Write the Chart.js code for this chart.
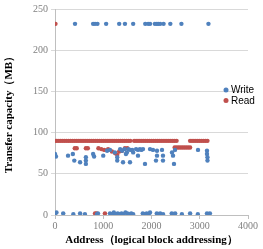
<!DOCTYPE html>
<html>
<head>
<meta charset="utf-8">
<script src="https://cdn.jsdelivr.net/npm/chart.js@4"></script>
<style>
  html, body { margin: 0; padding: 0; background: #fff; }
  #wrap { width: 263px; height: 249px; }
</style>
</head>
<body>
<div id="wrap"><canvas id="chart" width="263" height="249"></canvas></div>
<script>
// dados (endereço LBA x capacidade MB/s)
var writeAddr = [
  415, 790, 830, 880, 1060, 1330, 1450, 1620, 1870, 1930, 1970, 2070, 2110, 2140, 2180, 2250, 2390, 2620, 3180,
  0, 20, 270, 370, 400, 520, 640, 640, 640, 790, 810, 1000, 1080, 1140, 1240, 1290, 1290, 1350, 1390, 1410, 1440,
  1470, 1490, 1520, 1554, 1560, 1600, 1620, 1680, 1720, 1720, 1760, 1790, 1824, 1865, 1969, 2031, 2093, 2114, 2114,
  2218, 2238, 2238, 2425, 2446, 2466, 2487, 2964, 3150, 3150, 3160, 3160,
  0, 30, 170, 380, 520, 620, 870, 890, 1140, 1180, 1220, 1260, 1300, 1340, 1380, 1420, 1460, 1500, 1540, 1580,
  1620, 1820, 1860, 1900, 1940, 1970, 2110, 2150, 2180, 2240, 2420, 2460, 2490, 2630, 2800, 2960, 3150, 3180, 3210
];
var writeMB = [
  232, 232, 232, 232, 232, 232, 232, 232, 232, 232, 232, 232, 232, 232, 232, 232, 232, 232, 232,
  74, 71, 72, 74, 66, 64, 62, 66, 70, 74, 71, 72, 78, 79, 76, 66, 70, 80, 78, 64, 80,
  74, 76, 80, 64, 79, 79, 76, 80, 79, 72, 80, 79, 80, 62, 80, 79, 66, 78, 72,
  79, 72, 66, 76, 72, 62, 79, 79, 78, 74, 70, 66,
  2, 3, 2, 1, 2, 1, 1, 2, 2, 1, 3, 1, 2, 1, 2, 1, 3, 2, 1, 2,
  1, 2, 1, 2, 1, 3, 2, 1, 2, 1, 2, 1, 2, 1, 2, 1, 2, 1, 2
];
var readAddr = [
  10,
  0, 40, 80, 120, 160, 200, 240, 280, 320, 360, 400, 440, 480, 520, 560, 600, 640, 680, 720, 760,
  800, 840, 880, 920, 960, 1000, 1040, 1080, 1120, 1160, 1200, 1240, 1280, 1320, 1360, 1400, 1440, 1480, 1520, 1560,
  1640, 1680, 1720, 1760, 1800, 1840, 1880, 1920, 1960, 2000, 2040, 2080, 2120, 2160, 2200, 2240, 2280, 2320,
  2360, 2400, 2440, 2480, 2520,
  2800, 2840, 2880, 2920, 2960, 3000, 3040, 3080, 3120, 3160,
  410, 450, 640, 680, 900, 960, 1020, 1100, 1180, 1250, 1290, 1330, 1390, 1450, 1500,
  2480, 2520, 2560, 2600, 2640, 2680, 2720, 2760, 2800,
  830, 860, 1035
];
var readMB = [
  232,
  90, 90, 90, 90, 90, 90, 90, 90, 90, 90, 90, 90, 90, 90, 90, 90, 90, 90, 90, 90,
  90, 90, 90, 90, 90, 90, 90, 90, 90, 90, 90, 90, 90, 90, 90, 90, 90, 90, 90, 90,
  90, 90, 90, 90, 90, 90, 90, 90, 90, 90, 90, 90, 90, 90, 90, 90, 90, 90,
  90, 90, 90, 90, 90,
  90, 90, 90, 90, 90, 90, 90, 90, 90, 90,
  81, 81, 81, 81, 81, 80, 79, 80, 77, 75, 73, 77, 78, 81, 81,
  82, 82, 82, 82, 82, 82, 82, 82, 82,
  2, 2, 2
];
var seriesNames = ["Write", "Read"];
var xTicks = [0, 1000, 2000, 3000, 4000];
var yTicks = [0, 50, 100, 150, 200, 250];

function pares(xs, ys) {
  var out = [];
  for (var i = 0; i < xs.length; i++) out.push({ x: xs[i], y: ys[i] });
  return out;
}

// legenda desenhada dentro da área do gráfico, como no original
var legendaInterna = {
  id: "legendaInterna",
  afterDraw: function (chart) {
    var c = chart.ctx;
    var area = chart.chartArea;
    var x0 = area.right - 22;
    var y0 = area.top + 81;
    c.save();
    c.font = "10px 'Liberation Sans', Arial, sans-serif";
    c.textBaseline = "middle";
    chart.data.datasets.forEach(function (ds, i) {
      var y = y0 + i * 10.5;
      c.fillStyle = ds.backgroundColor;
      c.beginPath();
      c.arc(x0, y, 2.5, 0, Math.PI * 2);
      c.fill();
      c.fillStyle = "#000";
      c.fillText(ds.label, x0 + 5, y + 0.5);
    });
    c.restore();
  }
};

var ctx = document.getElementById("chart").getContext("2d");
var Grafico = new Chart(ctx, {
  type: "scatter",
  data: {
    datasets: [
      {
        label: seriesNames[0],
        data: pares(writeAddr, writeMB),
        backgroundColor: "rgb(79,129,189)",
        borderWidth: 0,
        pointRadius: 2.2,
      },
      {
        label: seriesNames[1],
        data: pares(readAddr, readMB),
        backgroundColor: "rgb(192,80,77)",
        borderWidth: 0,
        pointRadius: 2.2,
      },
    ],
  },
  plugins: [legendaInterna],
  options: {
    responsive: false,
    animation: false,
    layout: { padding: { top: 7, right: 15, left: 0, bottom: 0 } },
    plugins: {
      legend: { display: false },
      tooltip: { enabled: false },
    },
    scales: {
      x: {
        type: "linear",
        min: 0,
        max: 4000,
        afterBuildTicks: function (s) { s.ticks = xTicks.map(function (v) { return { value: v }; }); },
        afterFit: function (s) { s.height = 34; },
        grid: { drawOnChartArea: false, color: "#bfbfbf", tickLength: 4 },
        border: { color: "#bfbfbf" },
        ticks: {
          color: "#808080",
          padding: 1,
          maxRotation: 0,
          font: { family: "'Liberation Serif', serif", size: 10 },
          callback: function (v) { return String(v); },
        },
        title: {
          display: true,
          text: "Address（logical block addressing）",
          color: "#000",
          padding: { top: 0, bottom: 2 },
          font: { family: "'Liberation Serif', serif", size: 11, weight: "bold" },
        },
      },
      y: {
        min: 0,
        max: 250,
        afterBuildTicks: function (s) { s.ticks = yTicks.map(function (v) { return { value: v }; }); },
        afterFit: function (s) { s.width = 55; },
        grid: { color: "#d9d9d9", tickLength: 4 },
        border: { color: "#bfbfbf" },
        ticks: {
          color: "#808080",
          padding: 3,
          font: { family: "'Liberation Serif', serif", size: 10 },
          callback: function (v) { return String(v); },
        },
        title: {
          display: true,
          text: "Transfer capacity（MB）",
          color: "#000",
          padding: { top: 3, bottom: 0 },
          font: { family: "'Liberation Serif', serif", size: 11, weight: "bold" },
        },
      },
    },
  },
});
</script>
</body>
</html>
